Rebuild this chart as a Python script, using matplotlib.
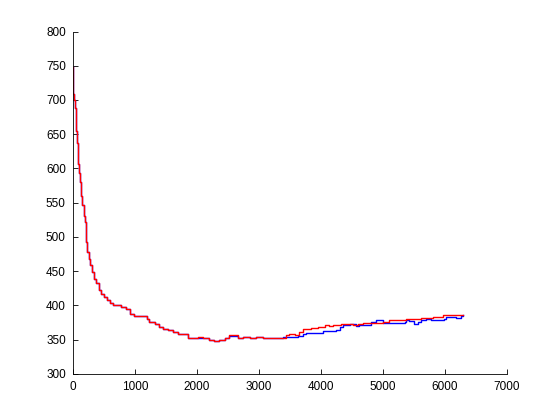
import numpy as np
import matplotlib
matplotlib.use("Agg")
import matplotlib.pyplot as plt

# shared early part (both runs are on top of each other here)
x_early = [0, 5, 11, 25, 39, 55, 71, 81, 103, 124, 135, 151, 173, 189, 205, 216,
           237, 258, 280, 306, 339, 377, 415, 458, 500, 544, 592, 645, 710, 780,
           850, 915, 995, 1103, 1194, 1237, 1318, 1398, 1456, 1532, 1613, 1694,
           1774, 1855, 1935]
y_early = [748, 729, 709, 700, 688, 655, 637, 607, 594, 580, 560, 546, 530, 522,
           504, 492, 478, 468, 459, 449, 438, 432, 422, 417, 412, 408, 403, 401,
           400, 398, 394, 388, 385, 384, 380, 375, 373, 369, 366, 364, 361, 358,
           358, 353, 353]

# red series, after ~2000
x_red = [2016, 2097, 2194, 2285, 2366, 2447, 2527, 2608, 2662, 2743, 2850, 2958,
         3065, 3226, 3361, 3441, 3495, 3576, 3656, 3710, 3845, 3952, 4060, 4140,
         4194, 4329, 4463, 4516, 4597, 4677, 4839, 5000, 5108, 5269, 5377, 5511,
         5619, 5806, 5968, 6183, 6301]
y_red = [354, 353, 349.6, 347.5, 349.6, 352.5, 356, 356, 353, 354, 353, 354,
         352.5, 352.5, 352.5, 356, 358.5, 357, 361, 366, 367, 369, 371, 370,
         371, 373, 373, 371, 373, 374.5, 374.5, 376, 378, 379, 380.5, 380.5,
         382, 383, 385.5, 385.5, 385.5]

# blue series, after ~2000
x_blue = [2016, 2097, 2194, 2285, 2366, 2447, 2527, 2608, 2662, 2743, 2850, 2958,
          3065, 3226, 3388, 3549, 3629, 3710, 3764, 3925, 4022, 4043, 4194, 4248,
          4302, 4356, 4463, 4570, 4624, 4704, 4812, 4893, 4946, 5000, 5161, 5296,
          5350, 5377, 5430, 5511, 5565, 5619, 5699, 5780, 5861, 5995, 6022, 6183,
          6263, 6301]
y_blue = [352, 353, 350, 347.5, 350, 353, 355, 355, 352, 354, 352, 354,
          352.5, 352.5, 353.5, 353.5, 355, 358.5, 359.5, 359.5, 360, 362, 363, 364,
          368.5, 371, 373, 370.5, 372, 372, 375.5, 379, 379, 374.5, 374.5, 374.5,
          375.5, 379, 377, 373, 375.5, 379, 380.5, 378, 379, 380.5, 383, 382,
          384, 385.5]

xb = np.array(x_early + x_blue)
yb = np.array(y_early + y_blue)
xr = np.array(x_early + x_red)
yr = np.array(y_early + y_red)

plt.rcParams['font.family'] = ['Liberation Sans', 'DejaVu Sans']
fig = plt.figure(figsize=(5.6, 4.2), dpi=100)
ax = fig.add_axes([0.13, 0.11, 0.775, 0.815])
ax.plot(xb, yb, color='#0000ff', lw=1.0, drawstyle='steps-post')
ax.plot(xr, yr, color='#ff0000', lw=1.0, drawstyle='steps-post')

ax.set_xlim(0, 7000)
ax.set_ylim(300, 800)
ax.set_xticks(np.arange(0, 7001, 1000))
ax.set_yticks(np.arange(300, 801, 50))
ax.spines['top'].set_visible(False)
ax.spines['right'].set_visible(False)
ax.tick_params(direction='in', length=3.6, width=0.6, labelsize=8.5, pad=5)
for s in ['left', 'bottom']:
    ax.spines[s].set_linewidth(0.6)

fig.savefig('out.png', dpi=100)
